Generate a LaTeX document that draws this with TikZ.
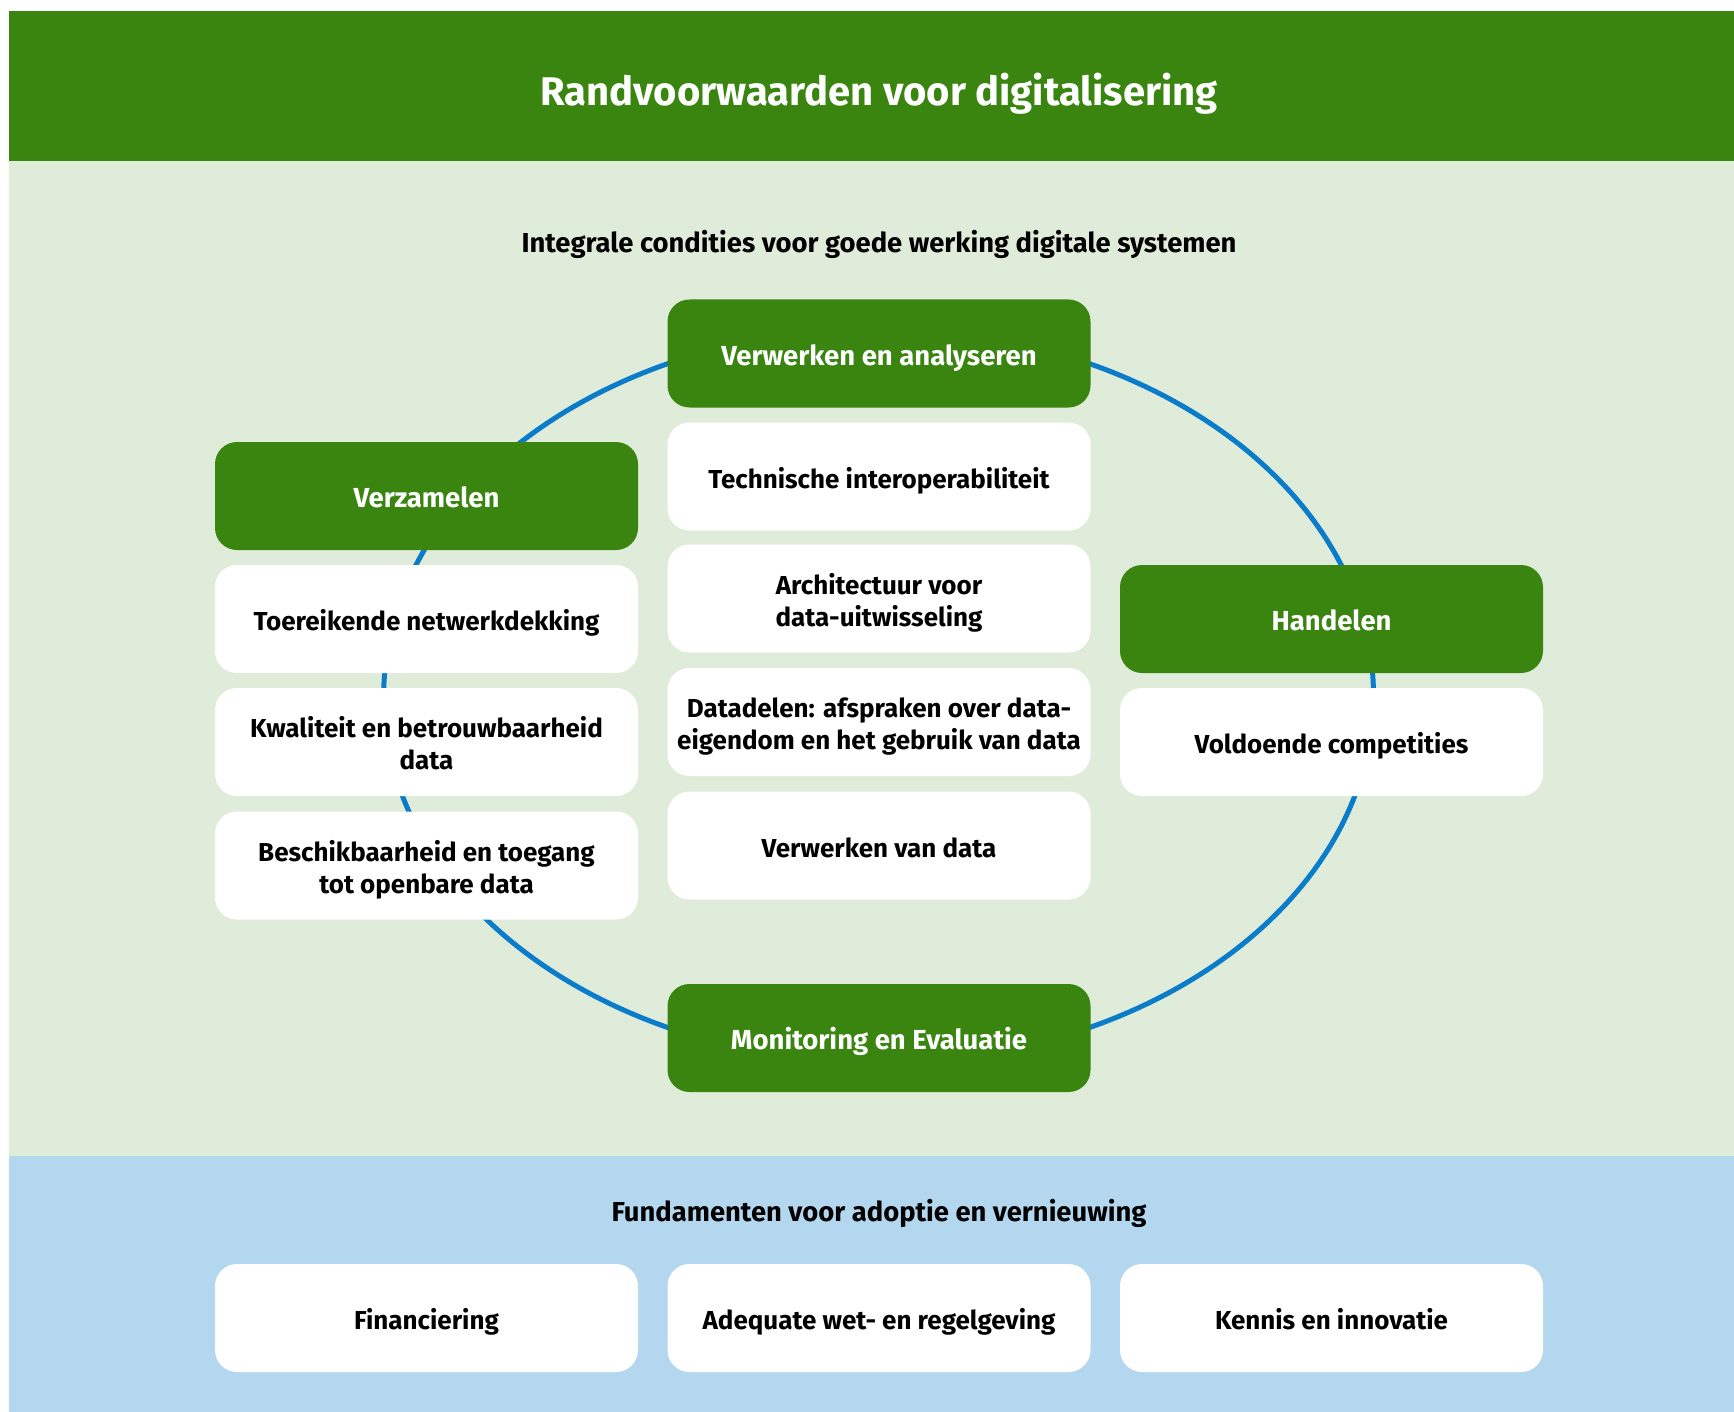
\documentclass[tikz,border=0pt]{standalone}
\usepackage{fontspec}
\setmainfont{Fira Sans}
\definecolor{rvgreen}{HTML}{3A8510}
\definecolor{rvpale}{HTML}{E0ECDA}
\definecolor{rvsky}{HTML}{B3D7EE}
\definecolor{rvline}{HTML}{0A7CC9}
% card label: lines on fixed struts, set a little below the card's middle
\newcommand\cardtext[1]{\raisebox{-5.2pt}[\height][\depth]{\begin{tabular}{@{}c@{}}#1\end{tabular}}}
\begin{document}
\begin{tikzpicture}[x=1pt,y=-1pt,
  card/.style={rounded corners=22pt, minimum width=423pt, minimum height=108pt,
    inner sep=0pt},
  phase/.style={card, fill=rvgreen, text=white, font=\fontsize{27.5}{32}\selectfont\bfseries},
  item/.style={card, fill=white, text=black, font=\fontsize{26}{32}\selectfont\bfseries},
  heading/.style={font=\fontsize{27.4}{32}\selectfont\bfseries, text=black}]
\useasboundingbox (0,0) rectangle (1734,1412);
% bands
\fill[white] (0,0) rectangle (1734,1412);
\fill[rvgreen] (9,11) rectangle (1734,161);
\fill[rvpale] (9,161) rectangle (1734,1156);
\fill[rvsky] (9,1156) rectangle (1734,1412);
\node[font=\fontsize{40}{46}\selectfont\bfseries, text=white] (title) at (879,94) {Randvoorwaarden voor digitalisering};
\node[heading] (cond) at (879,244) {Integrale condities voor goede werking digitale systemen};
\node[heading] (fund) at (879,1213) {Fundamenten voor adoptie en vernieuwing};
% cycle
\coordinate (hub) at (878.6,695.6);
\draw[rvline, line width=5pt] (hub) ellipse [x radius=494.9, y radius=366.8];
% middle column
\node[phase] (analyse) at (879,353.5) {\cardtext{Verwerken en analyseren}};
\node[item] (tech) at (879,476.5) {\cardtext{Technische interoperabiliteit}};
\node[item] (arch) at (879,598.5) {\cardtext{Architectuur voor\\data-uitwisseling}};
\node[item] (share) at (879,722) {\cardtext{Datadelen: afspraken over data-\\eigendom en het gebruik van data}};
\node[item] (proc) at (879,845.5) {\cardtext{Verwerken van data}};
\node[phase] (monitor) at (879,1038) {\cardtext{Monitoring en Evaluatie}};
% left column
\node[phase] (collect) at (426.5,496) {\cardtext{Verzamelen}};
\node[item] (network) at (426.5,619) {\cardtext{Toereikende netwerkdekking}};
\node[item] (quality) at (426.5,742) {\cardtext{Kwaliteit en betrouwbaarheid\\data}};
\node[item] (open) at (426.5,865.5) {\cardtext{Beschikbaarheid en toegang\\tot openbare data}};
% right column
\node[phase] (act) at (1331.5,619) {\cardtext{Handelen}};
\node[item] (skills) at (1331.5,742) {\cardtext{Voldoende competities}};
% foundations
\node[item] (finance) at (426.5,1318) {\cardtext{Financiering}};
\node[item] (law) at (879,1318) {\cardtext{Adequate wet- en regelgeving}};
\node[item] (know) at (1331.5,1318) {\cardtext{Kennis en innovatie}};
\end{tikzpicture}
\end{document}
